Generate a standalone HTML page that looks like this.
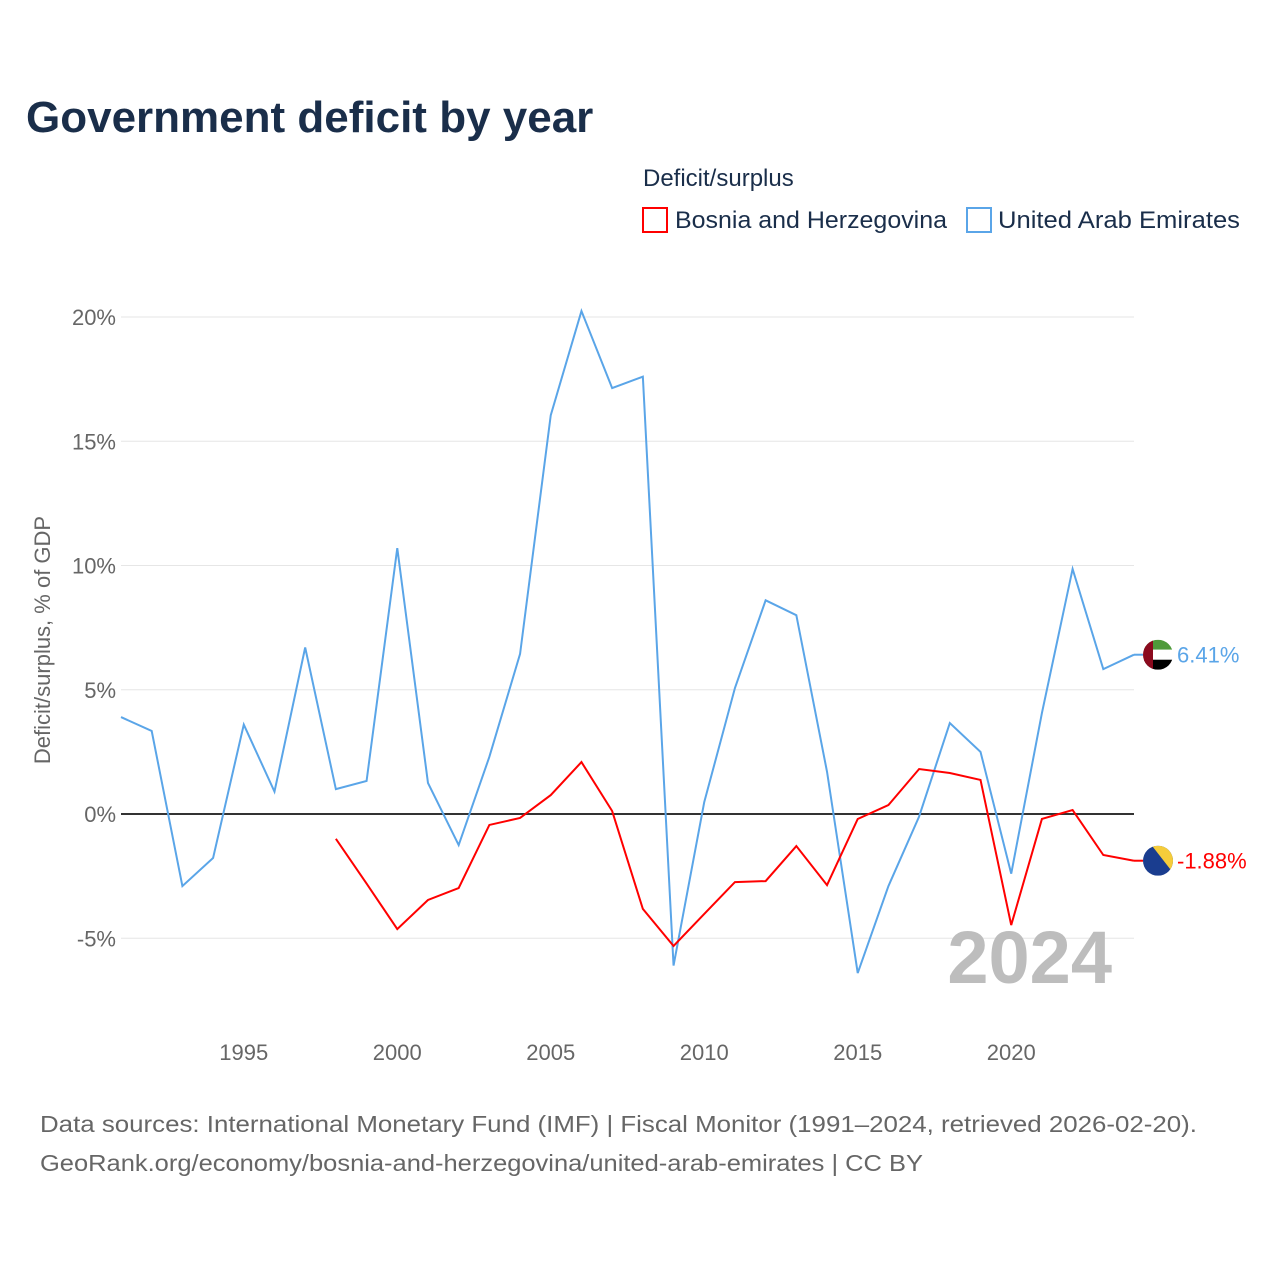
<!DOCTYPE html>
<html><head><meta charset="utf-8">
<style>
body{margin:0;background:#fff;font-family:"Liberation Sans",sans-serif;}
#wrap{position:relative;width:1280px;height:1280px;overflow:hidden;}
</style></head>
<body>
<div id="wrap">
<svg id="chart" width="1280" height="1280">
<defs>
<clipPath id="c1"><circle cx="1158" cy="0" r="15"/></clipPath>
</defs>
<text x="26" y="132" font-size="44" font-weight="bold" fill="#1a2e4a">Government deficit by year</text>
<text x="643" y="186" font-size="24" fill="#1a2e4a">Deficit/surplus</text>
<g>
<rect x="643" y="208" width="24" height="24" fill="#fff" stroke="#ff0000" stroke-width="2"/>
<text x="675" y="228" font-size="24" fill="#1a2e4a" textLength="272" lengthAdjust="spacingAndGlyphs">Bosnia and Herzegovina</text></g>
<g>
<rect x="967" y="208" width="24" height="24" fill="#fff" stroke="#5aa5e8" stroke-width="2"/>
<text x="998" y="228" font-size="24" fill="#1a2e4a" textLength="242" lengthAdjust="spacingAndGlyphs">United Arab Emirates</text></g>
<text transform="translate(50,640) rotate(-90)" text-anchor="middle" font-size="22" fill="#666">Deficit/surplus, % of GDP</text>
<g id="grid"></g><g id="series"></g>
<text x="1112" y="983" text-anchor="end" font-size="74" font-weight="bold" fill="#bdbdbd">2024</text>
<text x="40" y="1132" font-size="23" fill="#666" textLength="1157" lengthAdjust="spacingAndGlyphs">Data sources: International Monetary Fund (IMF) | Fiscal Monitor (1991–2024, retrieved 2026-02-20).</text>
<text x="40" y="1171" font-size="23" fill="#666" textLength="883" lengthAdjust="spacingAndGlyphs">GeoRank.org/economy/bosnia-and-herzegovina/united-arab-emirates | CC BY</text>
</svg></div>
<script>
const years=[];for(let y=1991;y<=2024;y++)years.push(y);
const uae=[3.9,3.34,-2.9,-1.77,3.6,0.9,6.7,1.0,1.33,10.7,1.25,-1.25,2.3,6.44,16.05,20.24,17.14,17.6,-6.1,0.48,5.07,8.6,8.0,1.7,-6.4,-2.9,-0.1,3.66,2.5,-2.4,4.06,9.86,5.83,6.41];
const bihYears=[1998,1999,2000,2001,2002,2003,2004,2005,2006,2007,2008,2009,2010,2011,2012,2013,2014,2015,2016,2017,2018,2019,2020,2021,2022,2023,2024];
const bih=[-1.0,-2.8,-4.63,-3.46,-2.98,-0.44,-0.16,0.76,2.09,0.12,-3.82,-5.31,-4.02,-2.74,-2.7,-1.29,-2.86,-0.2,0.36,1.81,1.65,1.37,-4.47,-0.2,0.16,-1.65,-1.88];
const yTicks=[-5,0,5,10,15,20];
const xTicks=[1995,2000,2005,2010,2015,2020];
const NS="http://www.w3.org/2000/svg";
const X=y=>121+(y-1991)*(1134-121)/33;
const Y=v=>814-v*24.85;
const grid=document.getElementById('grid'),ser=document.getElementById('series');
function mk(tag,at,par){const e=document.createElementNS(NS,tag);for(const k in at)e.setAttribute(k,at[k]);par.appendChild(e);return e;}
yTicks.forEach(t=>{
 const l=mk('line',{x1:121,x2:1134,y1:Y(t),y2:Y(t),stroke:t===0?'#333':'#e6e6e6','stroke-width':t===0?2:1},grid);
 
 
 const tx=mk('text',{x:116,y:Y(t)+8,'text-anchor':'end','font-size':22,fill:'#666'},grid);
 tx.textContent=t+'%';
 
 
});
xTicks.forEach(t=>{
 const tx=mk('text',{x:X(t),y:1060,'text-anchor':'middle','font-size':22,fill:'#666'},grid);
 tx.textContent=t;
 
 
});
function line(xs,vs,c,name){
 const p=mk('polyline',{points:xs.map((x,i)=>X(x)+','+Y(vs[i])).join(' '),fill:'none',stroke:c,'stroke-width':2},ser);
 
 
}
line(years,uae,'#5aa5e8','uae-line');
line(bihYears,bih,'#ff0000','bosnia-line');
function endLabel(v,c,name,flag){
 const g=mk('g',{},ser);
 
 
 const cx=1158,cy=Y(v);
 mk('line',{x1:1134,x2:1143,y1:cy,y2:cy,stroke:c,'stroke-width':2},g);
 const f=mk('g',{transform:`translate(0,${cy})`},g);
 const fi=mk('g',{'clip-path':'url(#c1)'},f);
 if(flag==='uae'){
  mk('rect',{x:cx-15,y:-15,width:30,height:10,fill:'#4e9a3a'},fi);
  mk('rect',{x:cx-15,y:-5,width:30,height:10,fill:'#fff'},fi);
  mk('rect',{x:cx-15,y:5,width:30,height:10,fill:'#000'},fi);
  mk('rect',{x:cx-15,y:-15,width:10,height:30,fill:'#8b0a1e'},fi);
 }else{
  mk('rect',{x:cx-15,y:-15,width:30,height:30,fill:'#1a3d8f'},fi);
  mk('polygon',{points:`${cx-6},-15 ${cx+15},-15 ${cx+15},12`,fill:'#f5cc3a'},fi);
 }
 const t=mk('text',{x:1177,y:cy+8,'font-size':22,fill:c},g);
 t.textContent=v.toFixed(2)+'%';
}
endLabel(uae[uae.length-1],'#5aa5e8','uae-end-label','uae');
endLabel(bih[bih.length-1],'#ff0000','bosnia-end-label','bih');
</script>
</body></html>
